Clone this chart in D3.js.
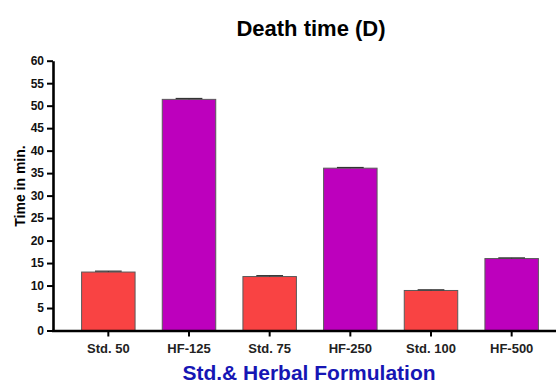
<!DOCTYPE html>
<html>
<head>
<meta charset="utf-8">
<script src="https://cdn.jsdelivr.net/npm/d3@7"></script>
<style>
  body { margin: 0; background: #fff; }
  svg text { font-family: "Liberation Sans", Arial, sans-serif; font-weight: bold; }
</style>
</head>
<body>
<div id="chart"></div>
<script>
// chart data
var groups = ["Std. 50", "HF-125", "Std. 75", "HF-250", "Std. 100", "HF-500"];
var times = [13.0, 51.4, 12.0, 36.1, 8.9, 16.0];
var errs = [0.2, 0.2, 0.2, 0.15, 0.15, 0.15];
var barColors = ["#f94343", "#bd00bd", "#f94343", "#bd00bd", "#f94343", "#bd00bd"];
var yTicks = [0, 5, 10, 15, 20, 25, 30, 35, 40, 45, 50, 55, 60];

var width = 556, height = 386;

var svg = d3.select("#chart").append("svg")
    .attr("width", width).attr("height", height);

var xScale = d3.scaleBand()
    .domain(groups)
    .range([68, 552])
    .paddingInner(0.337)
    .paddingOuter(0.1685);

var yScale = d3.scaleLinear()
    .domain([0, 60])
    .range([330.5, 60.7]);

// bars
svg.selectAll("rect.bar")
    .data(groups)
    .enter().append("rect")
    .attr("class", "bar")
    .attr("x", function (d) { return xScale(d); })
    .attr("width", xScale.bandwidth())
    .attr("y", function (d, i) { return yScale(times[i]); })
    .attr("height", function (d, i) { return yScale(0) - yScale(times[i]); })
    .style("fill", function (d, i) { return barColors[i]; })
    .style("stroke", "#5a5a5a")
    .style("stroke-width", 1);

// error bars (only upper half visible)
var eb = svg.selectAll("g.err").data(groups).enter().append("g").attr("class", "err");
eb.append("line")
    .attr("x1", function (d) { return xScale(d) + xScale.bandwidth() / 2; })
    .attr("x2", function (d) { return xScale(d) + xScale.bandwidth() / 2; })
    .attr("y1", function (d, i) { return yScale(times[i]); })
    .attr("y2", function (d, i) { return yScale(times[i] + errs[i]); })
    .style("stroke", "#333").style("stroke-width", 1);
eb.append("line")
    .attr("x1", function (d) { return xScale(d) + xScale.bandwidth() * 0.25; })
    .attr("x2", function (d) { return xScale(d) + xScale.bandwidth() * 0.75; })
    .attr("y1", function (d, i) { return yScale(times[i] + errs[i]); })
    .attr("y2", function (d, i) { return yScale(times[i] + errs[i]); })
    .style("stroke", "#333").style("stroke-width", 1.2);

// y axis
var yAxis = d3.axisLeft(yScale).tickValues(yTicks).tickSize(6).tickPadding(3).tickSizeOuter(0);
var gy = svg.append("g").attr("transform", "translate(53,0)").call(yAxis);
gy.select(".domain").style("stroke", "#000").style("stroke-width", 2.6);
gy.selectAll(".tick line").style("stroke", "#000").style("stroke-width", 2);
gy.selectAll(".tick text").style("font-size", "12px").style("fill", "#111");

// x axis
var xAxis = d3.axisBottom(xScale).tickSize(6).tickPadding(7).tickSizeOuter(0);
var gx = svg.append("g").attr("transform", "translate(0,330.5)").call(xAxis);
gx.select(".domain").attr("d", "M52,0.5H556").style("stroke", "#000").style("stroke-width", 2.6);
gx.selectAll(".tick line").style("stroke", "#000").style("stroke-width", 2);
gx.selectAll(".tick text").style("font-size", "13px").style("fill", "#222");

// title
svg.append("text")
    .attr("x", 311).attr("y", 36)
    .attr("text-anchor", "middle")
    .style("font-size", "22px").style("fill", "#000")
    .text("Death time (D)");

// y label
svg.append("text")
    .attr("transform", "translate(24.5,186) rotate(-90)")
    .attr("text-anchor", "middle")
    .style("font-size", "14px").style("fill", "#000")
    .text("Time in min.");

// x label
svg.append("text")
    .attr("x", 309).attr("y", 380)
    .attr("text-anchor", "middle")
    .style("font-size", "21px").style("fill", "#1616b4")
    .text("Std.& Herbal Formulation");
</script>
</body>
</html>
